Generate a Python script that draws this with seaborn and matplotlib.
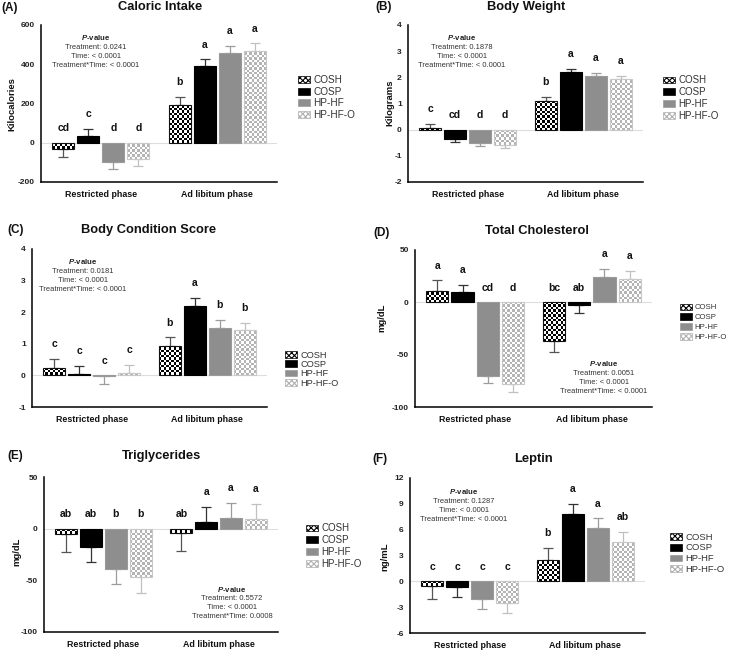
import numpy as np
import pandas as pd
import matplotlib
matplotlib.use("Agg")
import matplotlib.pyplot as plt
import seaborn as sns
from matplotlib.colors import ListedColormap
from matplotlib.patches import Patch

# ---------------- data ----------------
groups = ["COSH", "COSP", "HP-HF", "HP-HF-O"]
phases = ["Restricted phase", "Ad libitum phase"]

caloric_mean = [[-30, 35, -98, -83], [190, 389, 459, 469]]
caloric_sem = [[42, 37, 34, 34], [44, 36, 35, 37]]
caloric_letters = [["cd", "c", "d", "d"], ["b", "a", "a", "a"]]
caloric_p = ["0.0241", "< 0.0001", "< 0.0001"]

weight_mean = [[0.06, -0.37, -0.50, -0.60], [1.10, 2.20, 2.07, 1.95]]
weight_sem = [[0.17, 0.12, 0.11, 0.10], [0.15, 0.11, 0.10, 0.09]]
weight_letters = [["c", "cd", "d", "d"], ["b", "a", "a", "a"]]
weight_p = ["0.1878", "< 0.0001", "< 0.0001"]

bcs_mean = [[0.25, 0.04, -0.03, 0.09], [0.93, 2.21, 1.50, 1.44]]
bcs_sem = [[0.27, 0.27, 0.25, 0.25], [0.27, 0.25, 0.26, 0.23]]
bcs_letters = [["c", "c", "c", "c"], ["b", "a", "b", "b"]]
bcs_p = ["0.0181", "< 0.0001", "< 0.0001"]

chol_mean = [[11, 9.5, -70, -78], [-37, -2.6, 24, 22]]
chol_sem = [[10, 7.5, 7.3, 8], [10, 8, 7.7, 8]]
chol_letters = [["a", "a", "cd", "d"], ["bc", "ab", "a", "a"]]
chol_p = ["0.0051", "< 0.0001", "< 0.0001"]

trig_mean = [[-5.5, -17.4, -39, -47], [-4.5, 6, 10.3, 9]]
trig_sem = [[17, 15, 14.5, 15], [17, 15, 15, 15]]
trig_letters = [["ab", "ab", "b", "b"], ["ab", "a", "a", "a"]]
trig_p = ["0.5572", "< 0.0001", "0.0008"]

leptin_mean = [[-0.5, -0.66, -2.1, -2.55], [2.44, 7.78, 6.15, 4.57]]
leptin_sem = [[1.5, 1.2, 1.15, 1.13], [1.47, 1.24, 1.15, 1.13]]
leptin_letters = [["c", "c", "c", "c"], ["b", "a", "a", "ab"]]
leptin_p = ["0.1287", "< 0.0001", "< 0.0001"]

# ---------------- style ----------------
sns.set_theme(style="white")
plt.rcParams["font.family"] = ["Liberation Sans", "DejaVu Sans"]
plt.rcParams["mathtext.fontset"] = "custom"
plt.rcParams["mathtext.it"] = "Liberation Sans:style=italic:weight=bold"
plt.rcParams["mathtext.rm"] = "Liberation Sans:weight=bold"
plt.rcParams["hatch.linewidth"] = 0.8

W, H = 729, 652
fig = plt.figure(figsize=(W / 100, H / 100), dpi=100)


def fx(x):
    return x / W


def fy(y):
    return 1 - y / H


face = {"COSH": "none", "COSP": "#000000", "HP-HF": "#8e8e8e", "HP-HF-O": "none"}
edge = {"COSH": "#111111", "COSP": "#000000", "HP-HF": "#9a9a9a", "HP-HF-O": "#c8c8c8"}
checker = {"COSH": "#000000", "HP-HF-O": "#b4b4b4"}
ecol = {"COSH": "#555555", "COSP": "#333333", "HP-HF": "#9c9c9c", "HP-HF-O": "#c0c0c0"}

panels = [
    dict(mean=caloric_mean, sem=caloric_sem, letters=caloric_letters, p=caloric_p,
         title="Caloric Intake", tag="(A)", ylabel="Kilocalories",
         yticks=[-200, 0, 200, 400, 600], rect=(41, 25, 277, 182),
         title_xy=(160, 7), tag_xy=(1, 8), ylab_xy=(12, 104), p_xy=(96, 38),
         leg=(298, 81, 13, 7.2)),
    dict(mean=weight_mean, sem=weight_sem, letters=weight_letters, p=weight_p,
         title="Body Weight", tag="(B)", ylabel="Kilograms",
         yticks=[-2, -1, 0, 1, 2, 3, 4], rect=(408, 25, 643, 182),
         title_xy=(526, 7), tag_xy=(375, 7), ylab_xy=(390, 103), p_xy=(462, 38),
         leg=(663, 81, 13, 7.0)),
    dict(mean=bcs_mean, sem=bcs_sem, letters=bcs_letters, p=bcs_p,
         title="Body Condition Score", tag="(C)", ylabel=None,
         yticks=[-1, 0, 1, 2, 3, 4], rect=(32, 249, 267, 407),
         title_xy=(149, 230), tag_xy=(7, 230), ylab_xy=None, p_xy=(83, 262),
         leg=(285, 356, 11, 6.7)),
    dict(mean=chol_mean, sem=chol_sem, letters=chol_letters, p=chol_p,
         title="Total Cholesterol", tag="(D)", ylabel="mg/dL",
         yticks=[-100, -50, 0, 50], rect=(415, 250, 652, 407),
         title_xy=(537, 231), tag_xy=(373, 233), ylab_xy=(382, 318), p_xy=(604, 364),
         leg=(680, 308, 11, 5.6)),
    dict(mean=trig_mean, sem=trig_sem, letters=trig_letters, p=trig_p,
         title="Triglycerides", tag="(E)", ylabel="mg/dL",
         yticks=[-100, -50, 0, 50], rect=(44, 477, 278, 632),
         title_xy=(162, 456), tag_xy=(7, 456), ylab_xy=(17, 552), p_xy=(232, 589),
         leg=(306, 529, 13, 7.0)),
    dict(mean=leptin_mean, sem=leptin_sem, letters=leptin_letters, p=leptin_p,
         title="Leptin", tag="(F)", ylabel="ng/mL",
         yticks=[-6, -3, 0, 3, 6, 9, 12], rect=(410, 478, 645, 633),
         title_xy=(533, 459), tag_xy=(372, 459), ylab_xy=(385, 557), p_xy=(464, 492),
         leg=(670, 538, 12.7, 6.8)),
]

for P in panels:
    l, t, r, b = P["rect"]
    ax = fig.add_axes([fx(l), fy(b), (r - l) / W, (b - t) / H])
    rows = []
    for pi, ph in enumerate(phases):
        for gi, g in enumerate(groups):
            rows.append(dict(phase=ph, group=g, value=P["mean"][pi][gi],
                             sem=P["sem"][pi][gi], letter=P["letters"][pi][gi]))
    df = pd.DataFrame(rows)
    sns.barplot(data=df, x="phase", y="value", hue="group", order=phases,
                hue_order=groups, palette=["#000000", "#000000", "#8e8e8e", "#b4b4b4"],
                width=0.862, gap=0.12, errorbar=None, legend=False, ax=ax)
    ax.set_xlim(-0.515, 1.515)
    ax.set_ylim(P["yticks"][0], P["yticks"][-1])
    ax.axhline(0, color="#dedede", lw=0.8, zorder=0.5)

    for gi, (g, cont) in enumerate(zip(groups, ax.containers)):
        for pi, bar in enumerate(cont):
            row = df[(df.group == g) & (df.phase == phases[pi])].iloc[0]
            bar.set_facecolor(face[g])
            bar.set_edgecolor(edge[g])
            bar.set_linewidth(0.8)
            bar.set_zorder(1.2)
            x = bar.get_x() + bar.get_width() / 2
            h = row["value"]
            s = row["sem"]
            if g in checker:
                bb = bar.get_window_extent()
                nx = max(1, int(round(bb.width / 2.45)))
                ny = max(1, int(round(bb.height / 2.45)))
                arr = np.add.outer(np.arange(ny), np.arange(nx)) % 2
                y0, y1 = sorted([bar.get_y(), bar.get_y() + bar.get_height()])
                im = ax.imshow(arr, extent=(bar.get_x(), bar.get_x() + bar.get_width(), y0, y1),
                               cmap=ListedColormap(["white", checker[g]]), vmin=0, vmax=1,
                               interpolation="nearest", aspect="auto", zorder=1.1)
                im.set_clip_path(bar)
            yerr = [[0], [s]] if h >= 0 else [[s], [0]]
            ax.errorbar([x], [h], yerr=yerr, fmt="none", ecolor=ecol[g], elinewidth=0.9,
                        capsize=3.8, capthick=0.9, zorder=1.0)
            top = h + s if h >= 0 else 0
            ax.annotate(row["letter"], xy=(x, top), xytext=(0, 8.5), textcoords="offset points",
                        ha="center", va="baseline", fontsize=7.5, fontweight="bold", color="#111111")
    ax.set_xlim(-0.515, 1.515)
    ax.set_ylim(P["yticks"][0], P["yticks"][-1])

    for s in ["top", "right"]:
        ax.spines[s].set_visible(False)
    for s in ["left", "bottom"]:
        ax.spines[s].set_color("#000000")
        ax.spines[s].set_linewidth(1.1)
    ax.set_yticks(P["yticks"], [str(v) for v in P["yticks"]], fontsize=6, fontweight="bold")
    ax.set_xticks([0, 1], phases, fontsize=6.4, fontweight="bold")
    ax.tick_params(axis="y", length=3.5, width=1, direction="out", pad=1, colors="#222222")
    ax.tick_params(axis="x", length=3.5, width=1, direction="out", pad=2.5, colors="#111111")
    ax.set_xlabel("")
    ax.set_ylabel("")

    fig.text(fx(P["title_xy"][0]), fy(P["title_xy"][1]), P["title"], ha="center", va="center",
             fontsize=9.3, fontweight="bold", color="#111111")
    fig.text(fx(P["tag_xy"][0]), fy(P["tag_xy"][1]), P["tag"], ha="left", va="center",
             fontsize=8.5, fontweight="bold", color="#111111")
    if P["ylabel"]:
        fig.text(fx(P["ylab_xy"][0]), fy(P["ylab_xy"][1]), P["ylabel"], ha="center", va="center",
                 rotation=90, fontsize=6.8, fontweight="bold", color="#111111")
    px, py = P["p_xy"]
    fig.text(fx(px), fy(py), r"$\mathit{P}$-value", ha="center", va="center",
             fontsize=5.6, fontweight="bold", color="#222222")
    plines = ["Treatment: " + P["p"][0], "Time: " + P["p"][1], "Treatment*Time: " + P["p"][2]]
    for k, txt in enumerate(plines):
        fig.text(fx(px), fy(py + 9.2 * (k + 1)), txt, ha="center", va="center",
                 fontsize=5.4, color="#333333")

    lx, ly, lsp, lfs = P["leg"]
    handles = []
    for g in groups:
        if g == "COSH":
            handles.append(Patch(facecolor="white", edgecolor="#000000", hatch="xxxxxx", lw=0.5))
        elif g == "HP-HF-O":
            handles.append(Patch(facecolor="white", edgecolor="#b0b0b0", hatch="xxxxxx", lw=0.5))
        else:
            handles.append(Patch(facecolor=face[g], edgecolor=edge[g], lw=0.5))
    fs_px = lfs * 100 / 72
    text_h = 1.15 * fs_px
    lsp_units = max(0.0, (lsp - text_h) / fs_px)
    ax.legend(handles, groups, loc="upper left",
              bbox_to_anchor=(fx(lx), fy(ly - text_h / 2)), bbox_transform=fig.transFigure,
              frameon=False, fontsize=lfs, handlelength=12 / fs_px, handleheight=7 / fs_px,
              handletextpad=0.35, labelspacing=lsp_units, borderpad=0, borderaxespad=0,
              labelcolor="#333333")

fig.savefig("out.png", dpi=100)
